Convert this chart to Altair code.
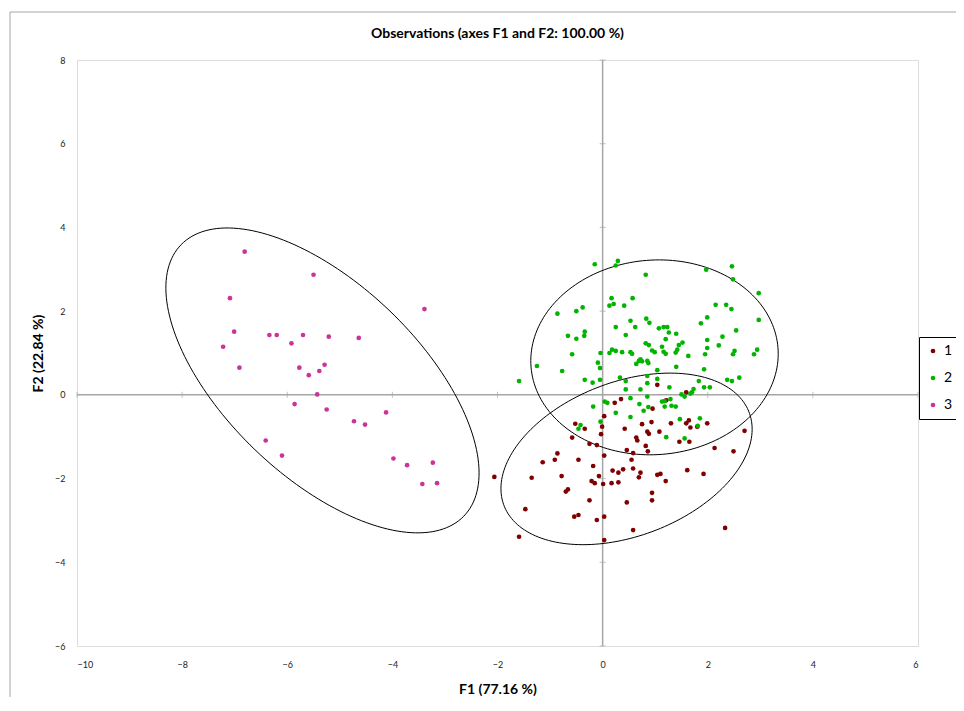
import altair as alt
import numpy as np
import pandas as pd

# ---------------- data ----------------
# Group 1 (dark red)
g1_x = [0.35, 0.23, 1.04, 1.59, 1.21, 0.03, -0.52, -0.34, -0.01, -0.03,
        -0.58, -0.25, -0.11, 0.03, -0.86, -0.91, -1.14, -0.46, -0.18, 0.19,
        0.30, -2.06, -1.35, -0.78, -0.07, -0.21, -0.15, 0.01, 0.17, 0.30,
        -0.66, -0.70, -0.25, -1.47, -0.46, -0.54, 0.03, -0.11, -1.59, 0.03,
        0.95, 0.75, 0.93, 1.30, 1.59, 1.64, 1.67, 1.80, 1.99, 0.42,
        0.85, 0.88, 1.08, 0.64, 0.66, 1.46, 1.65, 0.82, 0.86, 0.46,
        0.58, 2.70, 2.13, 2.49, 0.55, 0.39, 0.58, 0.72, 0.69, 1.04,
        1.10, 1.20, 1.61, 1.92, 0.94, 0.94, 0.46, 0.58, 2.33]
g1_y = [-0.10, -0.19, 0.24, 0.06, -0.13, -0.51, -0.69, -0.81, -0.76, -0.94,
        -1.02, -1.17, -1.20, -1.45, -1.40, -1.55, -1.61, -1.55, -1.70, -1.81,
        -1.86, -1.96, -1.98, -1.94, -1.94, -2.06, -2.11, -2.13, -2.11, -2.09,
        -2.26, -2.31, -2.52, -2.73, -2.87, -2.91, -2.91, -2.99, -3.39, -3.47,
        -0.33, -0.70, -0.65, -0.68, -0.68, -0.61, -0.78, -0.76, -0.68, -0.81,
        -0.88, -0.93, -0.88, -1.02, -1.09, -1.12, -1.12, -1.22, -1.35, -1.32,
        -1.39, -0.86, -1.27, -1.35, -1.55, -1.78, -1.76, -1.86, -1.97, -1.91,
        -1.89, -2.06, -1.80, -1.89, -2.34, -2.52, -2.57, -3.23, -3.18]

# Group 2 (green)
g2_x = [-0.15, 0.29, 0.25, 0.82, 0.17, 0.21, 0.13, 0.57, 0.41, -0.38,
        -0.50, -0.86, 0.83, 0.89, 0.53, 0.62, 0.25, -0.34, -0.35, -0.66,
        -0.50, 0.44, 0.82, 0.88, -0.58, -0.04, 0.13, 0.18, 0.25, 0.37,
        0.53, 0.56, -1.25, -0.77, -0.09, -0.05, 0.64, 0.69, 0.72, 0.75,
        0.85, 0.87, -1.59, -0.34, -0.19, -0.05, 0.33, 0.44, 0.85, 0.85,
        0.44, 0.72, 0.85, 0.53, 0.04, 0.09,
        1.97, 2.46, 2.48, 2.97, 2.15, 2.35, 2.45, 1.99, 1.87, 2.97,
        2.54, 1.07, 1.16, 1.23, 1.26, 1.40, 2.28, 1.20, 1.99, 1.52,
        1.45, 1.99, 2.21, 1.13, 0.94, 0.99, 1.16, 1.20, 1.39, 1.42,
        1.95, 1.63, 2.51, 2.48, 2.94, 2.88, 1.40, 1.93, 1.04, 1.83,
        2.37, 2.46, 2.60, 1.04, 1.27, 1.93, 2.04, 1.73, 1.70, 1.50,
        1.56, 1.29, 1.13,
        -0.18, 0.25, -0.04, -0.42, -0.46, 1.67, 1.18, 0.70, 0.87, 0.78,
        1.18, 1.31, 1.39, 0.53, 1.47, 1.85, 1.81, 1.21, 1.56]
g2_y = [3.12, 3.20, 3.09, 2.87, 2.31, 2.17, 2.13, 2.31, 2.13, 2.09,
        2.00, 1.94, 1.82, 1.72, 1.77, 1.62, 1.62, 1.51, 1.41, 1.41,
        1.34, 1.43, 1.23, 1.19, 0.97, 1.00, 1.00, 1.08, 1.05, 1.02,
        1.02, 0.98, 0.69, 0.57, 0.77, 0.64, 0.74, 0.81, 0.85, 0.80,
        0.81, 0.76, 0.33, 0.36, 0.29, 0.36, 0.41, 0.33, 0.45, 0.28,
        0.13, 0.13, -0.04, -0.08, -0.16, -0.19,
        2.99, 3.07, 2.76, 2.43, 2.15, 2.15, 2.05, 1.85, 1.71, 1.79,
        1.54, 1.59, 1.62, 1.62, 1.49, 1.46, 1.39, 1.33, 1.31, 1.25,
        1.19, 1.12, 1.18, 1.15, 1.06, 1.02, 1.03, 0.98, 1.01, 1.08,
        0.97, 0.93, 1.05, 0.97, 1.08, 0.97, 0.67, 0.61, 0.59, 0.33,
        0.36, 0.33, 0.41, 0.38, 0.18, 0.18, 0.18, 0.14, 0.06, 0.01,
        -0.04, -0.10, -0.16,
        -0.28, -0.43, -0.64, -0.72, -0.81, 0.03, -0.15, -0.22, -0.29, -0.38,
        -0.28, -0.26, -0.28, -0.53, -0.58, -0.56, -0.74, -1.01, -1.04]

# Group 3 (magenta)
g3_x = [-6.81, -5.50, -7.09, -3.39, -7.01, -6.34, -6.20, -5.70, -5.21, -4.64,
        -5.92, -7.22, -6.91, -5.77, -5.29, -5.39, -5.59, -5.43, -5.86, -5.25,
        -4.12, -4.73, -4.52, -6.41, -6.10, -3.98, -3.72, -3.23, -3.43, -3.15]
g3_y = [3.42, 2.87, 2.31, 2.05, 1.51, 1.43, 1.43, 1.43, 1.39, 1.36,
        1.23, 1.15, 0.65, 0.65, 0.72, 0.57, 0.47, 0.01, -0.22, -0.35,
        -0.42, -0.63, -0.71, -1.09, -1.45, -1.52, -1.68, -1.62, -2.13, -2.11]

groups = ["1", "2", "3"]
group_colors = ["#800000", "#00b400", "#cc3399"]

# Confidence ellipses (centre, semi-axes, orientation in degrees)
ell_cx = [0.455, 0.987, -5.33]
ell_cy = [-1.53, 0.896, 0.345]
ell_a = [2.61, 2.385, 4.245]
ell_b = [1.76, 2.296, 2.03]
ell_angle = [33.0, 36.7, 125.8]

x_ticks = [-10, -8, -6, -4, -2, 0, 2, 4, 6]
y_ticks = [-6, -4, -2, 0, 2, 4, 6, 8]

FONT = "Lato"

# ---------------- tables ----------------
pts = pd.concat([
    pd.DataFrame({"F1": g1_x, "F2": g1_y, "grp": "1"}),
    pd.DataFrame({"F1": g2_x, "F2": g2_y, "grp": "2"}),
    pd.DataFrame({"F1": g3_x, "F2": g3_y, "grp": "3"}),
], ignore_index=True)

t = np.linspace(0, 2 * np.pi, 181)
rows = []
for g, cx, cy, a, b, ang in zip(groups, ell_cx, ell_cy, ell_a, ell_b, ell_angle):
    th = np.deg2rad(ang)
    ex = cx + a * np.cos(t) * np.cos(th) - b * np.sin(t) * np.sin(th)
    ey = cy + a * np.cos(t) * np.sin(th) + b * np.sin(t) * np.cos(th)
    for i, (xx, yy) in enumerate(zip(ex, ey)):
        rows.append({"F1": xx, "F2": yy, "grp": g, "i": i})
ell = pd.DataFrame(rows)

xs = alt.Scale(domain=[-10, 6], nice=False, zero=False)
ys = alt.Scale(domain=[-6, 8], nice=False, zero=False)

GRAY = "#a6a6a6"

xaxis = alt.Axis(values=x_ticks, title="F1 (77.16 %)", labelFontSize=9,
                 labelPadding=14, titlePadding=13, titleFontSize=14,
                 titleFont=FONT, labelFont=FONT, titleFontWeight="bold",
                 labelColor="#222222", titleColor="#000000",
                 grid=False, ticks=False, domain=False)
yaxis = alt.Axis(values=y_ticks, title="F2 (22.84 %)", labelFontSize=9,
                 labelPadding=12, titlePadding=9, titleFontSize=14,
                 titleFont=FONT, labelFont=FONT, titleFontWeight="bold",
                 labelColor="#222222", titleColor="#000000",
                 grid=False, ticks=False, domain=False)

# outer chart frame (decoration)
frame = alt.Chart(pd.DataFrame({"k": [0]})).mark_rect(
    fill="white", fillOpacity=0, stroke=GRAY, strokeWidth=1
).encode(x=alt.value(-67), x2=alt.value(950), y=alt.value(-48), y2=alt.value(680))

zero_h = alt.Chart(pd.DataFrame({"a": [-10], "b": [6], "y": [0]})).mark_rule(
    color=GRAY, strokeWidth=1.5
).encode(x=alt.X("a:Q", scale=xs, axis=xaxis), x2="b:Q",
         y=alt.Y("y:Q", scale=ys, axis=yaxis))
zero_v = alt.Chart(pd.DataFrame({"a": [-6], "b": [8], "x": [0]})).mark_rule(
    color=GRAY, strokeWidth=1.5
).encode(y=alt.Y("a:Q", scale=ys), y2="b:Q", x=alt.X("x:Q", scale=xs))

ticks_h = alt.Chart(pd.DataFrame({"x": x_ticks, "y": [0] * len(x_ticks)})).mark_tick(
    orient="vertical", size=6, thickness=1, color=GRAY
).encode(x=alt.X("x:Q", scale=xs), y=alt.Y("y:Q", scale=ys))
ticks_v = alt.Chart(pd.DataFrame({"y": y_ticks, "x": [0] * len(y_ticks)})).mark_tick(
    orient="horizontal", size=6, thickness=1, color=GRAY
).encode(x=alt.X("x:Q", scale=xs), y=alt.Y("y:Q", scale=ys))

ellipses = alt.Chart(ell).mark_line(color="black", strokeWidth=1).encode(
    x=alt.X("F1:Q", scale=xs), y=alt.Y("F2:Q", scale=ys),
    detail="grp:N", order="i:Q")

points = alt.Chart(pts).mark_circle(size=22, opacity=1).encode(
    x=alt.X("F1:Q", scale=xs), y=alt.Y("F2:Q", scale=ys),
    color=alt.Color("grp:N", scale=alt.Scale(domain=groups, range=group_colors),
                    legend=alt.Legend(title=None, orient="none", legendX=842,
                                      legendY=277, strokeColor="black",
                                      fillColor="white", padding=7,
                                      symbolType="circle", symbolSize=22,
                                      labelFontSize=14, labelFont=FONT,
                                      rowPadding=13, labelOffset=4)))

chart = alt.layer(frame, zero_h, zero_v, ticks_h, ticks_v, ellipses, points).properties(
    width=841, height=586,
    title=alt.TitleParams("Observations (axes F1 and F2: 100.00 %)", font=FONT,
                          fontSize=14, fontWeight="bold", anchor="middle",
                          offset=-29, color="#000000"),
    autosize=alt.AutoSizeParams(type="none"),
    padding={"left": 69, "top": 52, "right": 38, "bottom": 51},
).configure_view(stroke=GRAY, strokeWidth=1).configure_axis(
    domain=False, ticks=False, grid=False
).configure(background="white")

chart.save("out.html", embed_options={"renderer": "svg", "actions": False})
